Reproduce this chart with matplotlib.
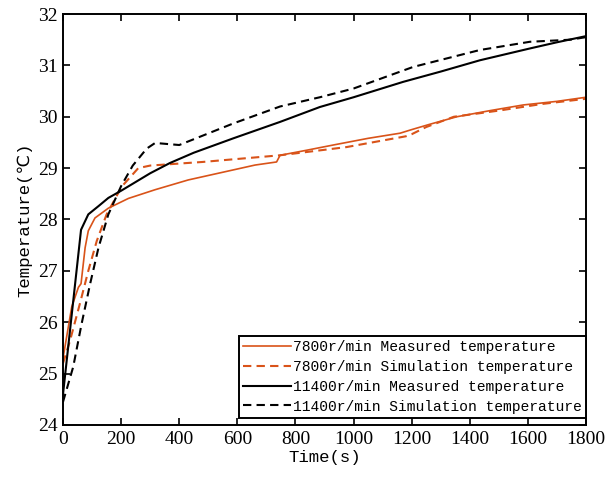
import numpy as np
import matplotlib
matplotlib.use('Agg')
import matplotlib.pyplot as plt

# 7800 r/min
t_meas_7800 = [0, 30, 53, 62, 76, 87, 110, 156, 225, 317, 431, 550, 661, 735, 747,
               840, 930, 1050, 1160, 1200, 1260, 1355, 1470, 1584, 1700, 1800]
T_meas_7800 = [25.3, 26.3, 26.68, 26.75, 27.45, 27.78, 28.03, 28.22, 28.41, 28.58,
               28.77, 28.92, 29.06, 29.12, 29.25, 29.35, 29.45, 29.58, 29.68, 29.75, 29.85,
               30.0, 30.12, 30.23, 30.3, 30.38]
t_sim_7800 = [0, 24, 58, 87, 116, 150, 202, 259, 300, 480, 747, 976, 1180, 1200, 1250, 1345,
              1500, 1650, 1800]
T_sim_7800 = [25.2, 25.64, 26.36, 27.0, 27.58, 28.1, 28.64, 29.0, 29.05, 29.12, 29.25, 29.41,
              29.62, 29.66, 29.8, 30.0, 30.12, 30.25, 30.35]

# 11400 r/min
t_meas_11400 = [0, 62, 87, 122, 156, 200, 250, 300, 368, 450, 586, 747, 884, 1000, 1171,
                1300, 1435, 1607, 1700, 1800]
T_meas_11400 = [24.6, 27.8, 28.1, 28.26, 28.42, 28.56, 28.73, 28.9, 29.1, 29.3, 29.58,
                29.9, 30.19, 30.38, 30.68, 30.88, 31.1, 31.33, 31.45, 31.57]
t_sim_11400 = [0, 35, 64, 93, 122, 156, 200, 240, 288, 317, 400, 586, 747, 884, 1000, 1205,
               1435, 1607, 1745, 1800]
T_sim_11400 = [24.45, 25.13, 25.97, 26.74, 27.45, 28.1, 28.65, 29.05, 29.38, 29.49, 29.45,
               29.87, 30.2, 30.38, 30.55, 30.97, 31.3, 31.46, 31.5, 31.55]

labels = ['7800r/min Measured temperature', '7800r/min Simulation temperature',
          '11400r/min Measured temperature', '11400r/min Simulation temperature']

orange = '#D95319'
mono = ['Liberation Mono', 'DejaVu Sans']

fig = plt.figure(figsize=(6.06, 4.84), dpi=100)
ax = fig.add_axes([0.104, 0.122, 0.863, 0.849])

ax.plot(t_meas_7800, T_meas_7800, color=orange, lw=1.2, label=labels[0])
ax.plot(t_sim_7800, T_sim_7800, color=orange, lw=1.5, ls=(0, (4, 2.5)), label=labels[1])
ax.plot(t_meas_11400, T_meas_11400, color='black', lw=1.5, label=labels[2])
ax.plot(t_sim_11400, T_sim_11400, color='black', lw=1.5, ls=(0, (4, 2.5)), label=labels[3])

ax.set_xlim(0, 1800)
ax.set_ylim(24, 32)
ax.set_xticks(np.arange(0, 1801, 200))
ax.set_yticks(np.arange(24, 33, 1))
ax.tick_params(direction='in', top=True, right=True, length=5, width=1.2,
               labelsize=14, pad=4)
for lab in ax.get_xticklabels() + ax.get_yticklabels():
    lab.set_family('Liberation Serif')
for s in ax.spines.values():
    s.set_linewidth(1.4)

ax.set_xlabel('Time(s)', family=mono, fontsize=12.5, labelpad=2)
ax.set_ylabel('Temperature(℃)', family=mono, fontsize=12.5, labelpad=4)

leg = ax.legend(loc='lower right', bbox_to_anchor=(1.0, 0.017), borderaxespad=0,
                prop={'family': mono, 'size': 10.5}, handlelength=3.3,
                handletextpad=0.1, labelspacing=0.4, borderpad=0.3,
                fancybox=False, framealpha=1, edgecolor='black')
leg.get_frame().set_linewidth(1.4)

fig.savefig('out.png', dpi=100)
